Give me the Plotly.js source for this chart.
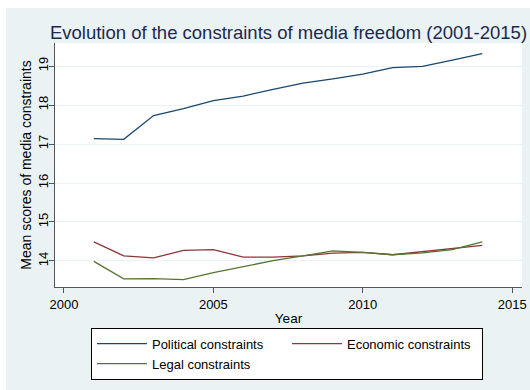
<!DOCTYPE html>
<html>
<head>
<meta charset="utf-8">
<script src="https://cdn.plot.ly/plotly-3.0.1.min.js"></script>
<style>
html,body{margin:0;padding:0;background:#ffffff;width:530px;height:390px;overflow:hidden;}
#chart{position:absolute;left:6px;top:8px;width:524px;height:382px;}
</style>
</head>
<body>
<div id="chart"></div>
<script>
var years = [2001,2002,2003,2004,2005,2006,2007,2008,2009,2010,2011,2012,2013,2014];
var political = [17.14,17.12,17.73,17.91,18.11,18.23,18.40,18.56,18.67,18.79,18.96,18.99,19.15,19.32];
var economic = [14.49,14.13,14.08,14.27,14.29,14.10,14.10,14.13,14.20,14.22,14.16,14.24,14.33,14.40];
var legal = [13.99,13.54,13.55,13.52,13.70,13.85,14.01,14.13,14.26,14.22,14.16,14.21,14.29,14.49];
var seriesNames = ['Political constraints','Economic constraints','Legal constraints'];
var seriesColors = ['#1a476f','#90353b','#55752f'];
var xTicks = [2000,2005,2010,2015];
var yTicks = [14,15,16,17,18,19];

var data = [political, economic, legal].map(function(v,i){
  return {x: years, y: v, type:'scatter', mode:'lines', name: seriesNames[i],
          line:{color: seriesColors[i], width:1.3}};
});

var layout = {
  width:524, height:382,
  paper_bgcolor:'#eaf2f3', plot_bgcolor:'#ffffff',
  margin:{l:49, r:8, t:35, b:103, autoexpand:false},
  font:{family:'Liberation Sans, Arial, sans-serif', size:13, color:'#000'},
  title:{text:'Evolution of the constraints of media freedom (2001-2015)',
         font:{size:18.5, color:'#1c2a4e'}, x:0.5, xref:'paper', xanchor:'center',
         y:0.935, yref:'container', yanchor:'middle'},
  xaxis:{range:[1999.70,2015.33], tickvals:xTicks, ticks:'outside', ticklen:5, tickcolor:'#555',
         showline:true, linecolor:'#555', linewidth:1, showgrid:false, zeroline:false,
         automargin:false,
         title:{text:'Year', font:{size:13.5}, standoff:2}},
  yaxis:{range:[13.333,19.59], tickvals:yTicks, ticks:'outside', ticklen:5, tickcolor:'#555',
         tickangle:-90, ticklabelstandoff:-4, showline:true, linecolor:'#555', linewidth:1,
         showgrid:true, gridcolor:'#eaf2f3', gridwidth:1, zeroline:false, automargin:false,
         title:{text:'Mean scores of media constraints', font:{size:14}, standoff:0}},
  showlegend:true,
  legend:{orientation:'h', x:0.077, xanchor:'left', y:-0.167, yanchor:'top',
          bgcolor:'#ffffff', bordercolor:'#000', borderwidth:1,
          entrywidth:130, entrywidthmode:'pixels', itemwidth:50,
          font:{size:13}, tracegroupgap:0}
};

Plotly.newPlot('chart', data, layout, {displayModeBar:false, staticPlot:true});
</script>
</body>
</html>
